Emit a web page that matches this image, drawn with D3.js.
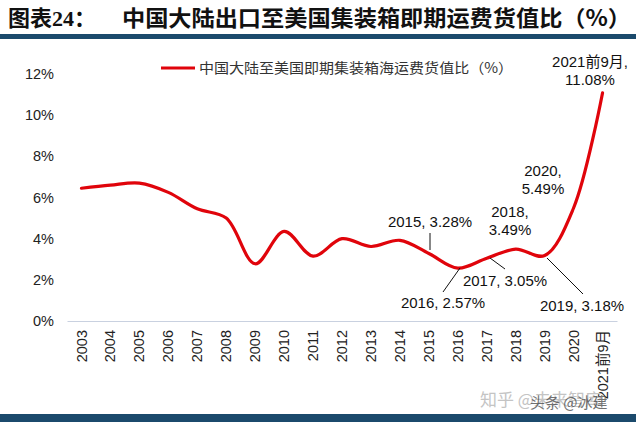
<!DOCTYPE html>
<html><head><meta charset="utf-8">
<script src="https://cdn.jsdelivr.net/npm/d3@7"></script>
<style>body{margin:0;background:#fff}svg{display:block}</style>
</head><body>
<svg id="c" width="636" height="422"></svg>
<script>
const categories = ["2003","2004","2005","2006","2007","2008","2009","2010","2011","2012","2013","2014","2015","2016","2017","2018","2019","2020","2021前9月"];
const values = [6.45,6.6,6.7,6.25,5.45,5.0,2.78,4.35,3.15,4.0,3.62,3.92,3.28,2.57,3.05,3.49,3.18,5.49,11.08];
const yTicks = [0,2,4,6,8,10,12];
const seriesName = "中国大陆至美国即期集装箱海运费货值比（%）";
const titleText = ["图表24：","中国大陆出口至美国集装箱即期运费货值比（%）"];
const watermarks = ["知乎 @未来智库","头条 @冰建"];
const annotations = [
  {i:12, lines:["2015, 3.28%"], tx:430, ty:227, lx1:430, ly1:233, lx2:430, ly2:250},
  {i:13, lines:["2016, 2.57%"], tx:443, ty:308, lx1:443, ly1:292, lx2:460, ly2:268},
  {i:14, lines:["2017, 3.05%"], tx:505, ty:286, lx1:505, ly1:269, lx2:490, ly2:258},
  {i:15, lines:["2018,","3.49%"], tx:510, ty:217, lx1:null},
  {i:16, lines:["2019, 3.18%"], tx:582, ty:311, lx1:583, ly1:294, lx2:547, ly2:258},
  {i:17, lines:["2020,","5.49%"], tx:543, ty:176, lx1:null},
  {i:18, lines:["2021前9月,","11.08%"], tx:590, ty:67, lx1:null}
];

const svg = d3.select("#c");
const font = "'Liberation Sans', Arial, 'Noto Sans CJK SC', sans-serif";

// title
svg.append("text").attr("x",8).attr("y",26).attr("font-family","'Liberation Serif','Noto Sans CJK SC',serif")
  .attr("font-weight","bold").attr("font-size",22).attr("fill","#111").text(titleText[0]);
svg.append("text").attr("x",122).attr("y",26).attr("font-family","'Noto Sans CJK SC',sans-serif")
  .attr("font-weight","bold").attr("font-size",22).attr("fill","#111")
  .attr("textLength",509).attr("lengthAdjust","spacingAndGlyphs").text(titleText[1]);
svg.append("rect").attr("x",0).attr("y",34).attr("width",636).attr("height",5).attr("fill","#1b4a6c");
svg.append("rect").attr("x",0).attr("y",414).attr("width",636).attr("height",8).attr("fill","#1b4a6c");

const x = d3.scaleBand().domain(categories).range([67,617]);
const y = d3.scaleLinear().domain([0,12]).range([321,74]);

// y axis
const yAxis = svg.append("g").attr("transform","translate(67,0)")
  .call(d3.axisLeft(y).tickValues(yTicks).tickFormat(d=>d+"%").tickSize(0).tickPadding(13));
yAxis.select(".domain").remove();
yAxis.selectAll("text").attr("font-family",font).attr("font-size",14.5).attr("fill","#222");

// x axis
const xAxis = svg.append("g").attr("transform","translate(0,321)")
  .call(d3.axisBottom(x).tickSize(0).tickPadding(0));
xAxis.select(".domain").attr("stroke","#c9d1e0").attr("stroke-width",1);
xAxis.selectAll("text").attr("font-family",font).attr("font-size",14.5).attr("fill","#222")
  .attr("transform","rotate(-90)").attr("text-anchor","end").attr("x",-9).attr("y",0).attr("dy","0.35em");

// line
const line = d3.line().x((d,i)=>x(categories[i])+x.bandwidth()/2).y(d=>y(d)).curve(d3.curveCatmullRom.alpha(0.5));
svg.append("path").datum(values).attr("d",line).attr("fill","none").attr("stroke","#e0040b").attr("stroke-width",3.2).attr("stroke-linecap","round");

// legend
svg.append("line").attr("x1",161).attr("x2",195).attr("y1",68).attr("y2",68).attr("stroke","#e0040b").attr("stroke-width",3.2);
svg.append("text").attr("x",199).attr("y",73).attr("font-family","'Noto Sans CJK SC',sans-serif").attr("font-size",14)
  .attr("textLength",314).attr("lengthAdjust","spacingAndGlyphs").attr("fill","#333").text(seriesName);

// annotations
annotations.forEach(a=>{
  if(a.lx1!==null){
    svg.append("line").attr("x1",a.lx1).attr("y1",a.ly1).attr("x2",a.lx2).attr("y2",a.ly2).attr("stroke","#111").attr("stroke-width",1);
  }
  const t = svg.append("text").attr("x",a.tx).attr("y",a.ty).attr("text-anchor","middle").attr("font-family",font).attr("font-size",15).attr("fill","#111");
  a.lines.forEach((s,k)=>t.append("tspan").attr("x",a.tx).attr("dy",k===0?0:18).text(s));
});

// watermark
svg.append("text").attr("x",480).attr("y",406).attr("font-family","'Noto Sans CJK SC',sans-serif").attr("font-size",17).attr("fill","#c4c4c4").text(watermarks[0]);
svg.append("text").attr("x",530).attr("y",408).attr("font-family","'Noto Sans CJK SC',sans-serif").attr("font-size",15).attr("fill","#444").attr("opacity",0.75).text(watermarks[1]);
</script>
</body></html>
